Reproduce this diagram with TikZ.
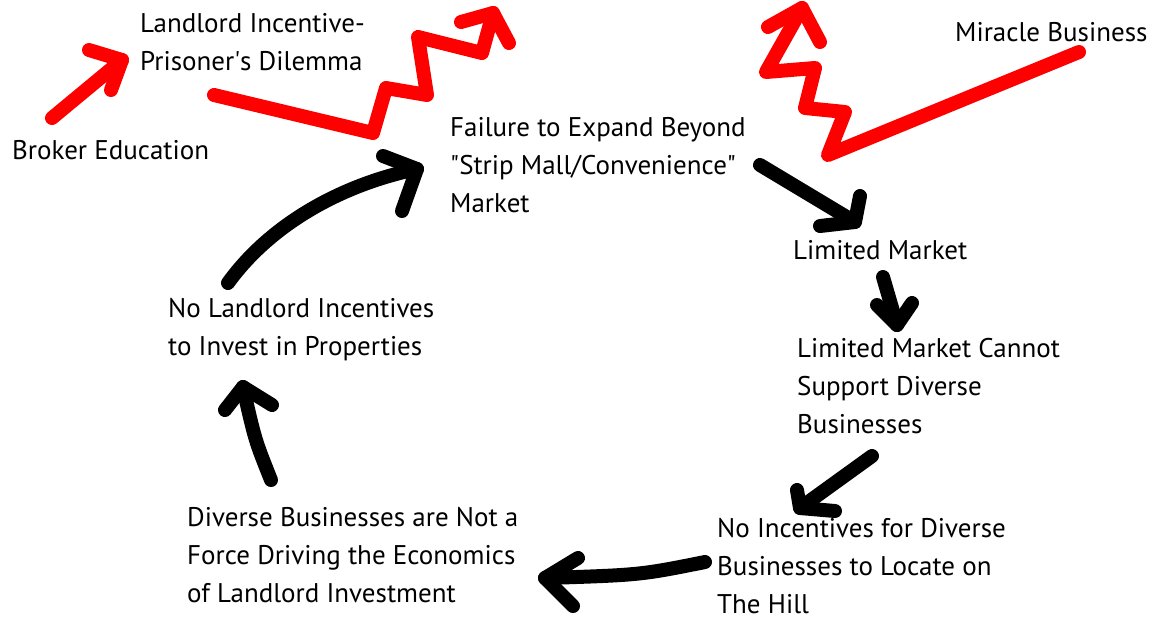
\documentclass[tikz,border=0pt]{standalone}
\usepackage{fontspec}
\setmainfont{PT Sans}

\begin{document}
\begin{tikzpicture}[x=1pt, y=-1pt,
  brush/.style={line width=14pt, line cap=round, line join=round},
  note/.style={anchor=north west, inner sep=0pt, align=left, font=\fontsize{27}{38}\selectfont}]
\useasboundingbox (0,0) rectangle (1153,625);

\begin{scope}[every node/.style=note]
\node(landlord) at (140,13) {Landlord Incentive-\\Prisoner\textquotesingle s Dilemma};
\node(broker) at (12,140) {Broker Education};
\node(miracle) at (955,22) {Miracle Business};
\node(failure) at (450,117) {Failure to Expand Beyond\\\textquotedbl Strip Mall/Convenience\textquotedbl\\Market};
\node(limited) at (793,240) {Limited Market};
\node(cannot) at (797,338) {Limited Market Cannot\\Support Diverse\\Businesses};
\node(noinc) at (717,518) {No Incentives for Diverse\\Businesses to Locate on\\The Hill};
\node(diverse) at (187,507) {Diverse Businesses are Not a\\Force Driving the Economics\\of Landlord Investment};
\node(nolandlord) at (168,298) {No Landlord Incentives\\to Invest in Properties};
\end{scope}

% black loop
\coordinate (a1s) at (228,283);
\coordinate (a1t) at (417,169);
\coordinate (a2s) at (760,165);
\coordinate (a2t) at (855,222);
\coordinate (a3s) at (883,277);
\coordinate (a3t) at (897,325);
\coordinate (a4s) at (872,456);
\coordinate (a4t) at (800,508);
\coordinate (a5s) at (705,562);
\coordinate (a5t) at (545,578);
\coordinate (a6s) at (271,480);
\coordinate (a6t) at (243,387);

\draw[brush] (a1s) .. controls (270,225) and (340,185) .. (a1t);
\draw[brush] (383,156) -- (a1t) -- (402,211);
\draw[brush] (a2s) -- (a2t);
\draw[brush] (820,226) -- (a2t) -- (860,196);
\draw[brush] (a3s) -- (a3t);
\draw[brush] (877,305) -- (a3t) -- (912,303);
\draw[brush] (a4s) -- (a4t);
\draw[brush] (797,490) -- (a4t) -- (835,511);
\draw[brush] (a5s) .. controls (640,575) .. (a5t);
\draw[brush] (578,558) -- (a5t) -- (573,606);
\draw[brush] (a6s) .. controls (255,440) .. (a6t);
\draw[brush] (225,410) -- (a6t) -- (272,405);

% red arrows
\coordinate (r1s) at (52,118);
\coordinate (r1t) at (122,60);
\coordinate (r2s) at (214,95);
\coordinate (r2t) at (493,13);
\coordinate (r3s) at (1079,52);
\coordinate (r3t) at (802,8);

\draw[brush, red] (r1s) -- (r1t);
\draw[brush, red] (89,50) -- (r1t) -- (111,90);
\draw[brush, red] (r2s) -- (373,133) -- (386,88) -- (427,95) -- (418,37) -- (482,53) -- (r2t);
\draw[brush, red] (461,22) -- (r2t) -- (509,43);
\draw[brush, red] (r3s) -- (828,155) -- (845,112) -- (805,108) -- (815,68) -- (766,72) -- (r3t);
\draw[brush, red] (768,27) -- (r3t) -- (820,42);
\end{tikzpicture}
\end{document}
